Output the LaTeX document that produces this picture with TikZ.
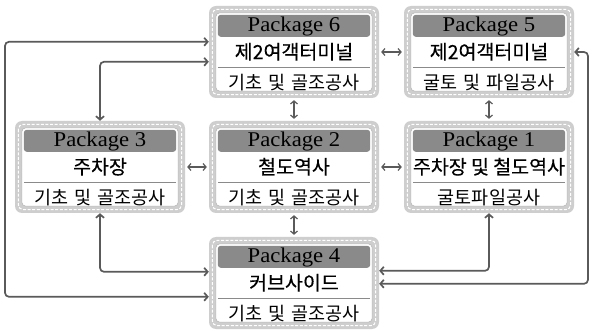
\documentclass[tikz,border=0pt]{standalone}
\usepackage{fontspec}
\setmainfont{Liberation Serif}[FakeStretch=1.08]
\newfontfamily\kr{Noto Sans CJK KR}
\newfontfamily\krb{Noto Sans CJK KR}[FakeBold=0.35]
\usetikzlibrary{arrows.meta,calc}
\definecolor{framegray}{HTML}{CECECE}
\definecolor{headgray}{HTML}{8A8A8A}
\definecolor{linegray}{HTML}{5A5A5A}
\definecolor{sepgray}{HTML}{8A8A8A}
\newcommand\pkgbox[6]{%
  \node[pkgframe] (#1) at (#2,#3) {};
  \draw[white, line width=1pt, dash pattern=on 3pt off 1.6pt, rounded corners=5pt]
    ($(#1.north west)+(3.5,3.5)$) rectangle ($(#1.south east)+(-3.5,-3.5)$);
  \draw[draw=black!30, fill=white, rounded corners=4pt, line width=0.5pt]
    ($(#1.north west)+(7,7)$) rectangle ($(#1.south east)+(-7,-7)$);
  \fill[headgray, rounded corners=3pt]
    ($(#1.north west)+(9,9)$) rectangle ($(#1.north east)+(-9,31)$);
  \node[headtext] (#1-h) at ($(#1.north)+(0,20.5)$) {Package #4};
  \node[linetwo] (#1-a) at ($(#1.north)+(0,46)$) {#5};
  \draw[sepgray, line width=0.6pt]
    ($(#1.north west)+(9,62)$) -- ($(#1.north east)+(-9,62)$);
  \node[linethree] (#1-b) at ($(#1.north)+(0,76.5)$) {#6};
}
\begin{document}
\begin{tikzpicture}[x=1pt,y=-1pt,
  pkgframe/.style={rectangle, rounded corners=7pt, fill=framegray,
    minimum width=170pt, minimum height=92pt, inner sep=0pt},
  headtext/.style={inner sep=0pt, font=\fontsize{21}{22}\selectfont},
  linetwo/.style={inner sep=0pt, font=\krb\fontsize{19.5}{20}\selectfont},
  linethree/.style={inner sep=0pt, font=\kr\fontsize{18.5}{20}\selectfont},
  conn/.style={draw=linegray, line width=1.7pt, rounded corners=4pt,
    {Straight Barb[length=3.5pt,width=8pt]}-{Straight Barb[length=3.5pt,width=8pt]}},
  shortconn/.style={draw=linegray, line width=1.2pt, shorten <=2pt, shorten >=2pt,
    {Straight Barb[length=3pt,width=7pt]}-{Straight Barb[length=3pt,width=7pt]}}
]
\fill[white] (0,0) rectangle (592,331);
\useasboundingbox (0,0) rectangle (592,331);

\pkgbox{b6}{294}{52}{6}{제2여객터미널}{기초\hspace{0.3em}및\hspace{0.3em}골조공사}
\pkgbox{b5}{489}{52}{5}{제2여객터미널}{굴토\hspace{0.3em}및\hspace{0.3em}파일공사}
\pkgbox{b3}{100}{167}{3}{주차장}{기초\hspace{0.3em}및\hspace{0.3em}골조공사}
\pkgbox{b2}{294}{167}{2}{철도역사}{기초\hspace{0.3em}및\hspace{0.3em}골조공사}
\pkgbox{b1}{489}{167}{1}{주차장\hspace{0.22em}및\hspace{0.22em}철도역사}{굴토파일공사}
\pkgbox{b4}{294}{283}{4}{커브사이드}{기초\hspace{0.3em}및\hspace{0.3em}골조공사}

\coordinate (lx) at (5,0);
\coordinate (rx) at (588,0);
\coordinate (p6a) at ($(b6.north west)+(0,36)$);
\coordinate (p6b) at ($(b6.north west)+(0,56)$);
\coordinate (p4a) at ($(b4.north west)+(0,35)$);
\coordinate (p4b) at ($(b4.north west)+(0,60)$);
\coordinate (p4c) at ($(b4.north east)+(0,34)$);
\coordinate (p4d) at ($(b4.north east)+(0,47)$);

\draw[conn] (p6a) -- (p6a -| lx) -- (p4b -| lx) -- (p4b);
\draw[conn] (p6b) -| (b3.north);
\draw[conn] (b3.south) |- (p4a);
\draw[conn] (b5.east) -- (b5.east -| rx) -- (p4d -| rx) -- (p4d);
\draw[conn] (b1.south) |- (p4c);

\draw[shortconn] (b6.east) -- (b5.west);
\draw[shortconn] (b3.east) -- (b2.west);
\draw[shortconn] (b2.east) -- (b1.west);
\draw[shortconn] (b6.south) -- (b2.north);
\draw[shortconn] (b5.south) -- (b1.north);
\draw[shortconn] (b2.south) -- (b4.north);
\end{tikzpicture}
\end{document}
